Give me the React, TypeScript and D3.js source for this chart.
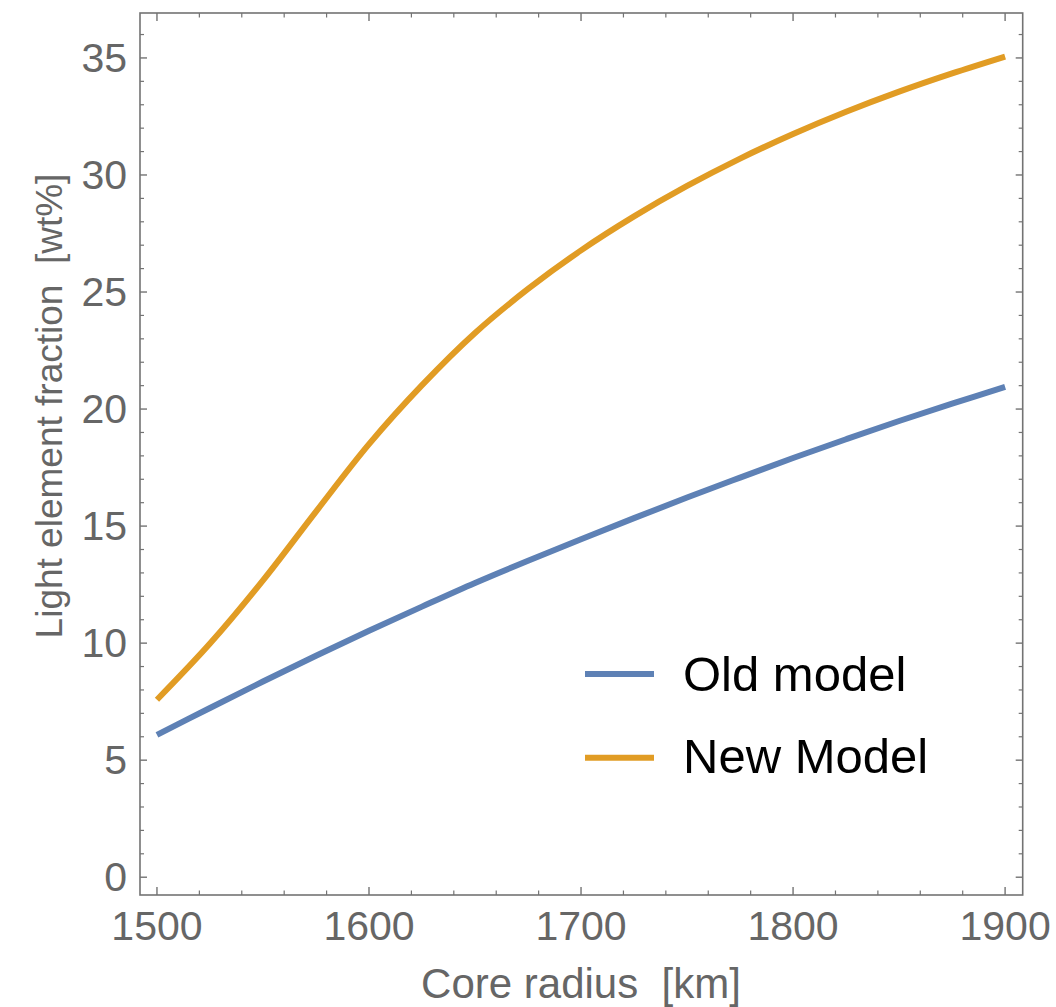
import React from "react";
import * as d3 from "d3";

const radii = [1500, 1525, 1550, 1575, 1600, 1625, 1650, 1675, 1700, 1725, 1750, 1775, 1800, 1825, 1850, 1875, 1900];
const oldModel = [6.08, 7.23, 8.36, 9.46, 10.53, 11.56, 12.57, 13.52, 14.44, 15.34, 16.22, 17.07, 17.91, 18.71, 19.49, 20.23, 20.95];
const newModel = [7.58, 9.98, 12.68, 15.62, 18.5, 21.02, 23.25, 25.13, 26.78, 28.23, 29.53, 30.7, 31.75, 32.7, 33.56, 34.34, 35.06];
const seriesNames = ["Old model", "New Model"];
const seriesColors = ["#5E81B5", "#E19C24"];
const xMajorTicks = [1500, 1600, 1700, 1800, 1900];
const yMajorTicks = [0, 5, 10, 15, 20, 25, 30, 35];
const xLabel = "Core radius  [km]";
const yLabel = "Light element fraction  [wt%]";

const W = 1056;
const H = 1007;
const left = 140, right = 1022.7, top = 13, bottom = 895;
const axisColor = "#737373";
const labelColor = "#666666";
const font = "'Liberation Sans', Arial, Helvetica, sans-serif";

export default function App() {
  const x = d3.scaleLinear().domain([1492, 1908.3]).range([left, right]);
  const y = d3.scaleLinear().domain([-0.76, 36.92]).range([bottom, top]);

  const xMinor = d3.range(1500, 1901, 20).filter((v) => v % 100 !== 0);
  const yMinor = d3.range(0, 37, 1).filter((v) => v % 5 !== 0);

  const line = d3
    .line<number>()
    .x((_, i) => x(radii[i]))
    .y((d) => y(d))
    .curve(d3.curveCatmullRom.alpha(0.5));

  const series = [oldModel, newModel];

  return (
    <svg
      width={W}
      height={H}
      style={{ position: "absolute", left: 0, top: 0, background: "#fff" }}
      fontFamily={font}
    >
      <rect x={0} y={0} width={W} height={H} fill="#fff" />
      {/* frame */}
      <rect x={left} y={top} width={right - left} height={bottom - top} fill="none" stroke={axisColor} strokeWidth={1.6} />
      {/* x ticks bottom & top */}
      {xMajorTicks.map((t) => (
        <g key={"xm" + t}>
          <line x1={x(t)} x2={x(t)} y1={bottom} y2={bottom - 8} stroke={axisColor} strokeWidth={1.4} />
          <line x1={x(t)} x2={x(t)} y1={top} y2={top + 8} stroke={axisColor} strokeWidth={1.4} />
          <text x={x(t)} y={940} textAnchor="middle" fontSize={41} fill={labelColor}>
            {t}
          </text>
        </g>
      ))}
      {xMinor.map((t) => (
        <g key={"xn" + t}>
          <line x1={x(t)} x2={x(t)} y1={bottom} y2={bottom - 4.5} stroke={axisColor} strokeWidth={1.2} />
          <line x1={x(t)} x2={x(t)} y1={top} y2={top + 4.5} stroke={axisColor} strokeWidth={1.2} />
        </g>
      ))}
      {yMajorTicks.map((t) => (
        <g key={"ym" + t}>
          <line x1={left} x2={left + 7} y1={y(t)} y2={y(t)} stroke={axisColor} strokeWidth={1.4} />
          <line x1={right} x2={right - 7} y1={y(t)} y2={y(t)} stroke={axisColor} strokeWidth={1.4} />
          <text x={127} y={y(t) + 14} textAnchor="end" fontSize={41} fill={labelColor}>
            {t}
          </text>
        </g>
      ))}
      {yMinor.map((t) => (
        <g key={"yn" + t}>
          <line x1={left} x2={left + 4} y1={y(t)} y2={y(t)} stroke={axisColor} strokeWidth={1.2} />
          <line x1={right} x2={right - 4} y1={y(t)} y2={y(t)} stroke={axisColor} strokeWidth={1.2} />
        </g>
      ))}
      {/* axis labels */}
      <text x={581} y={998} textAnchor="middle" fontSize={42} fill={labelColor} style={{ whiteSpace: "pre" }}>
        {xLabel}
      </text>
      <text
        transform="translate(62,406) rotate(-90)"
        textAnchor="middle"
        fontSize={37}
        fill={labelColor}
        style={{ whiteSpace: "pre" }}
      >
        {yLabel}
      </text>
      {/* curves */}
      {series.map((s, i) => (
        <path key={"s" + i} d={line(s) || ""} fill="none" stroke={seriesColors[i]} strokeWidth={6} strokeLinecap="butt" />
      ))}
      {/* legend */}
      {seriesNames.map((n, i) => (
        <g key={"lg" + i}>
          <line x1={585} x2={654} y1={674 + i * 83.7} y2={674 + i * 83.7} stroke={seriesColors[i]} strokeWidth={6} />
          <text x={683} y={691 + i * 82.3} fontSize={49} fill="#000">
            {n}
          </text>
        </g>
      ))}
    </svg>
  );
}
